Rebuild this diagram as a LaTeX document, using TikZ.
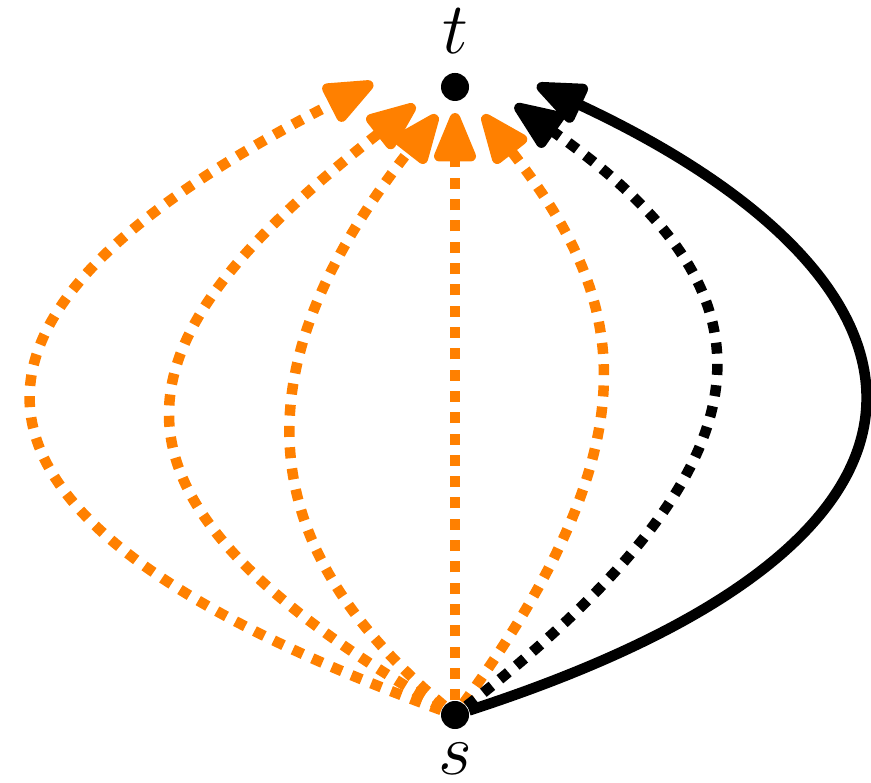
\documentclass[tikz,border=0pt]{standalone}
\usetikzlibrary{arrows.meta}
\definecolor{pathorange}{RGB}{255,128,0}

\begin{document}
\begin{tikzpicture}[x=0.01cm,y=0.01cm,
  vertex/.style={circle,fill=black,inner sep=0pt,minimum size=0.28cm},
  vlabel/.style={inner sep=0pt,font=\huge},
  headarrow/.style={-{Triangle[round,length=0.58cm,width=0.44cm]}},
  dotline/.style={line width=0.105cm,dash pattern=on 0.11cm off 0.103cm},
  opath/.style={pathorange,dotline,headarrow},
  bpath/.style={black,dotline,headarrow}]
\useasboundingbox (0,0) rectangle (871,783);

\node[vertex,label={[vlabel,label distance=0.18cm]above:$t$}] (t) at (455,696) {};
\node[vertex,label={[vlabel,label distance=0.13cm]below:$s$}] (s) at (455,68) {};

% arrow ends around t
\coordinate (e1) at (373,700);
\coordinate (e2) at (415,678);
\coordinate (e3) at (437,668);
\coordinate (e4) at (455,670);
\coordinate (e5) at (483,668);
\coordinate (e6) at (515,678);
\coordinate (e7) at (537,698);

\draw[opath] (s) to[out=160,in=207,out distance=5.7cm,in distance=5.1cm] (e1);
\draw[opath] (s) to[out=150,in=218,out distance=4.3cm,in distance=3.9cm] (e2);
\draw[opath] (s) to[out=140,in=232,out distance=2.8cm,in distance=2.9cm] (e3);
\draw[opath] (s) -- (e4);
\draw[opath] (s) to[out=54,in=-52,out distance=3.35cm,in distance=2.3cm] (e5);
\draw[bpath] (s) to[out=38,in=-35,out distance=4.15cm,in distance=3.2cm] (e6);
\draw[black,line width=0.105cm,headarrow] (s) to[out=18,in=-25,out distance=5.75cm,in distance=4.5cm] (e7);
\end{tikzpicture}
\end{document}
